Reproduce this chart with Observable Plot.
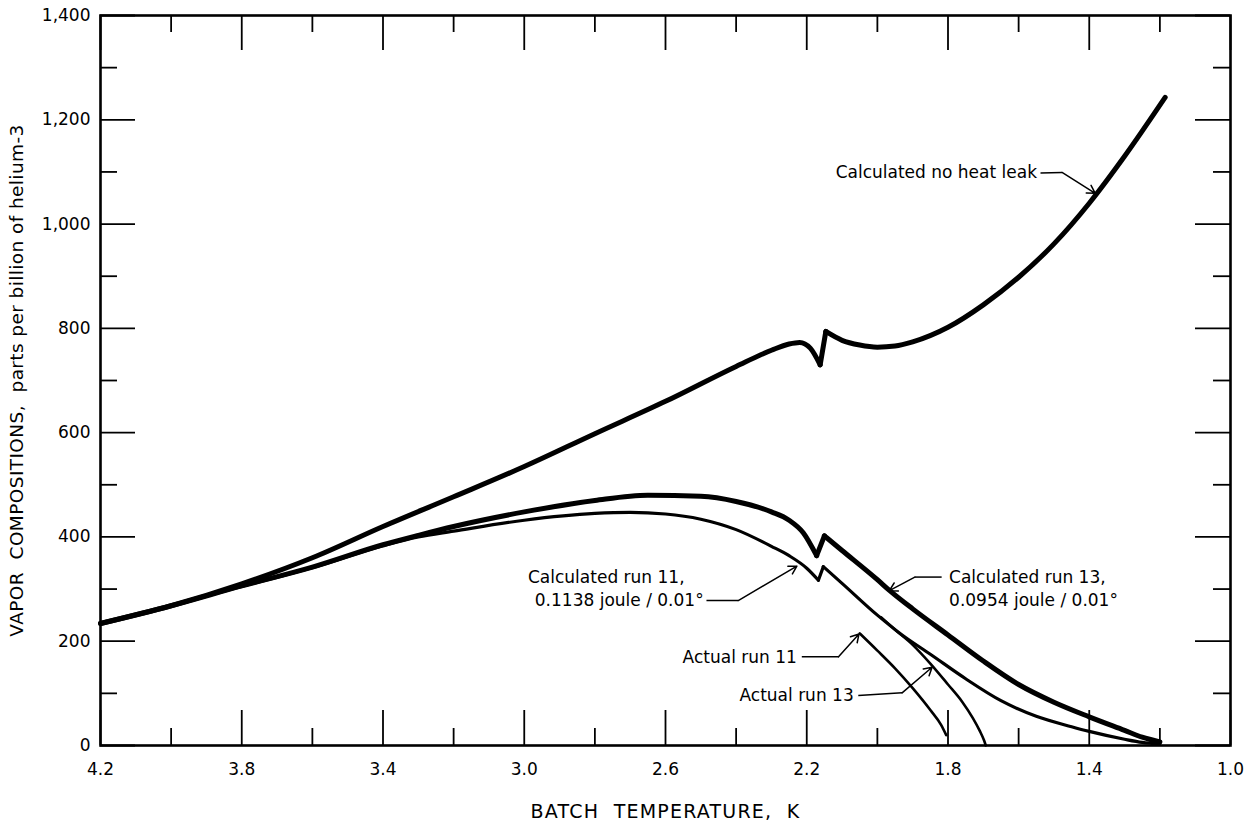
<!DOCTYPE html>
<html>
<head>
<meta charset="utf-8">
<script src="https://cdn.jsdelivr.net/npm/d3@7"></script>
<script src="https://cdn.jsdelivr.net/npm/@observablehq/plot@0.6"></script>
<style>
  html, body { margin: 0; padding: 0; background: #fff; }
  #chart svg { display: block; }
  #chart g[aria-label="x-axis label"] text { font-size: 19px; letter-spacing: 1.2px; }
  #chart g[aria-label="y-axis label"] text { font-size: 18.5px; letter-spacing: 0.4px; }
</style>
</head>
<body>
<div id="chart"></div>
<script>
// ---- Tick values ----
const xMajor = [4.2, 3.8, 3.4, 3.0, 2.6, 2.2, 1.8, 1.4, 1.0];
const xMinor = [4.0, 3.6, 3.2, 2.8, 2.4, 2.0, 1.6, 1.2];
const yMajor = [0, 200, 400, 600, 800, 1000, 1200, 1400];
const yMinor = [100, 300, 500, 700, 900, 1100, 1300];

// ---- Calculated, no heat leak ----
const noLeakT = [4.2, 4.0, 3.8, 3.6, 3.4, 3.2, 3.0, 2.8, 2.6, 2.4, 2.3, 2.25, 2.22, 2.19, 2.162, 2.146, 2.1, 2.05, 2.0, 1.95, 1.9, 1.8, 1.7, 1.6, 1.5, 1.4, 1.3, 1.185];
const noLeakV = [234, 268, 310, 360, 420, 477, 535, 598, 660, 727, 758, 770, 773, 762, 730, 794, 777, 768, 764, 766, 774, 802, 845, 898, 962, 1040, 1130, 1243];
const noLeakCorners = [2.162, 2.146];

// ---- Calculated run 13, 0.0954 joule / 0.01° ----
const calc13T = [4.2, 4.0, 3.8, 3.6, 3.4, 3.3, 3.2, 3.0, 2.8, 2.65, 2.5, 2.4, 2.3, 2.25, 2.21, 2.172, 2.15, 2.1, 2.0, 1.965, 1.9, 1.8, 1.7, 1.6, 1.5, 1.4, 1.3, 1.25, 1.2];
const calc13V = [234, 268, 306, 342, 385, 403, 420, 448, 470, 480, 478, 468, 448, 432, 408, 364, 402, 374, 318, 297, 262, 212, 162, 117, 83, 55, 29, 16, 7];
const calc13Corners = [2.172, 2.15];

// ---- Calculated run 11, 0.1138 joule / 0.01° ----
const calc11T = [4.2, 4.0, 3.8, 3.6, 3.4, 3.3, 3.2, 3.0, 2.8, 2.7, 2.6, 2.5, 2.4, 2.3, 2.25, 2.2, 2.167, 2.153, 2.1, 2.0, 1.93, 1.85, 1.75, 1.65, 1.55, 1.45, 1.4, 1.3, 1.25, 1.2];
const calc11V = [234, 268, 305, 341, 383, 400, 411, 432, 445, 447, 444, 434, 414, 382, 364, 340, 317, 343, 311, 250, 212, 175, 128, 86, 56, 36, 27, 12, 6, 3];
const calc11Corners = [2.167, 2.153];

// ---- Actual run 11 ----
const act11T = [2.05, 2.0, 1.95, 1.9, 1.85, 1.82, 1.805];
const act11V = [215, 182, 148, 110, 68, 40, 20];

// ---- Actual run 13 ----
const act13T = [1.99, 1.95, 1.9, 1.85, 1.8, 1.76, 1.73, 1.71, 1.698, 1.693];
const act13V = [246, 222, 193, 157, 117, 84, 53, 28, 10, 0];

// ---- Annotation texts and anchor points ----
const noteText   = ["Calculated no heat leak", "Calculated run 11,", "0.1138 joule / 0.01°", "Calculated run 13,", "0.0954 joule / 0.01°", "Actual run 11", "Actual run 13"];
const noteT      = [1.548, 2.546, 2.492, 1.797, 1.797, 2.228, 2.067];
const noteV      = [1098, 323, 278, 323, 278, 169, 95];
const noteAnchor = ["end", "end", "end", "start", "start", "end", "end"];

// leader segments (no head) and arrow segments (with head)
const leadT1 = [1.538, 2.484, 1.818, 2.214, 2.054];
const leadV1 = [1098, 278, 323, 170, 96];
const leadT2 = [1.477, 2.394, 1.894, 2.110, 1.930];
const leadV2 = [1099, 278, 323, 170, 101];
const tipT   = [1.383, 2.228, 1.966, 2.052, 1.845];
const tipV   = [1059, 344, 297, 214, 150];

// ---- Build tables ----
const zip = (t, v) => t.map((d, i) => ({t: d, v: v[i]}));
// split a curve at its sharp corners so the smoothing keeps them pointed
function pieces(t, v, corners) {
  const rows = [];
  let seg = 0;
  t.forEach((d, i) => {
    rows.push({t: d, v: v[i], seg});
    if (corners.includes(d)) { seg++; rows.push({t: d, v: v[i], seg}); }
  });
  return rows;
}
const noLeak = pieces(noLeakT, noLeakV, noLeakCorners);
const calc13 = pieces(calc13T, calc13V, calc13Corners);
const calc11 = pieces(calc11T, calc11V, calc11Corners);
const act11 = zip(act11T, act11V);
const act13 = zip(act13T, act13V);
const notes = noteText.map((s, i) => ({s, t: noteT[i], v: noteV[i], a: noteAnchor[i]}));
const leaders = leadT1.map((d, i) => ({t1: d, v1: leadV1[i], t2: leadT2[i], v2: leadV2[i], t3: tipT[i], v3: tipV[i]}));

const W = 1249, H = 822;
const mT = 15, mR = 19, mB = 77, mL = 100;
const fw = W - mL - mR, fh = H - mT - mB;
const majLen = 35, minLen = 17;
const FONT = "'DejaVu Sans', 'Liberation Sans', sans-serif";

const lineOpts = {x: "t", y: "v", z: "seg", curve: "monotone-x", stroke: "black", strokeLinejoin: "round", strokeLinecap: "round"};
const tickOpts = {stroke: "black", strokeWidth: 1.8};

const chart = Plot.plot({
  width: W, height: H,
  marginTop: mT, marginRight: mR, marginBottom: mB, marginLeft: mL,
  style: {fontFamily: FONT, fontSize: "17px", color: "black", background: "white"},
  x: {domain: [4.2, 1.0]},
  y: {domain: [0, 1400]},
  marks: [
    // inward ticks, all four sides
    Plot.ruleX(xMajor, {x: d => d, insetTop: fh - majLen, ...tickOpts}),
    Plot.ruleX(xMinor, {x: d => d, insetTop: fh - minLen, ...tickOpts}),
    Plot.ruleX(xMajor, {x: d => d, insetBottom: fh - majLen, ...tickOpts}),
    Plot.ruleX(xMinor, {x: d => d, insetBottom: fh - minLen, ...tickOpts}),
    Plot.ruleY(yMajor, {y: d => d, insetRight: fw - majLen, ...tickOpts}),
    Plot.ruleY(yMinor, {y: d => d, insetRight: fw - minLen, ...tickOpts}),
    Plot.ruleY(yMajor, {y: d => d, insetLeft: fw - majLen, ...tickOpts}),
    Plot.ruleY(yMinor, {y: d => d, insetLeft: fw - minLen, ...tickOpts}),
    Plot.frame({stroke: "black", strokeWidth: 2.6}),
    // axis labels
    Plot.axisX({ticks: xMajor, anchor: "bottom", tickSize: 0, tickPadding: 17, tickFormat: d3.format(".1f"),
      label: "BATCH  TEMPERATURE,  K", labelAnchor: "center", labelArrow: "none", labelOffset: 72, fontSize: 17}),
    Plot.axisY({ticks: yMajor, anchor: "left", tickSize: 0, tickPadding: 10, tickFormat: d3.format(","),
      label: "VAPOR  COMPOSITIONS,  parts per billion of helium-3", labelAnchor: "center", labelArrow: "none", labelOffset: 91, fontSize: 17}),
    // curves
    Plot.line(noLeak, {...lineOpts, strokeWidth: 5}),
    Plot.line(calc13, {...lineOpts, strokeWidth: 5}),
    Plot.line(calc11, {...lineOpts, strokeWidth: 3.2}),
    Plot.line(act11, {...lineOpts, z: null, strokeWidth: 2.6}),
    Plot.line(act13, {...lineOpts, z: null, strokeWidth: 2.6}),
    // leaders
    Plot.link(leaders, {x1: "t1", y1: "v1", x2: "t2", y2: "v2", stroke: "black", strokeWidth: 1.5}),
    Plot.arrow(leaders, {x1: "t2", y1: "v2", x2: "t3", y2: "v3", stroke: "black", strokeWidth: 1.5, headLength: 9}),
    // annotation text
    Plot.text(notes.filter(d => d.a === "end"), {x: "t", y: "v", text: "s", textAnchor: "end", fill: "black", fontSize: 17}),
    Plot.text(notes.filter(d => d.a === "start"), {x: "t", y: "v", text: "s", textAnchor: "start", fill: "black", fontSize: 17})
  ]
});
document.getElementById("chart").appendChild(chart);
</script>
</body>
</html>
